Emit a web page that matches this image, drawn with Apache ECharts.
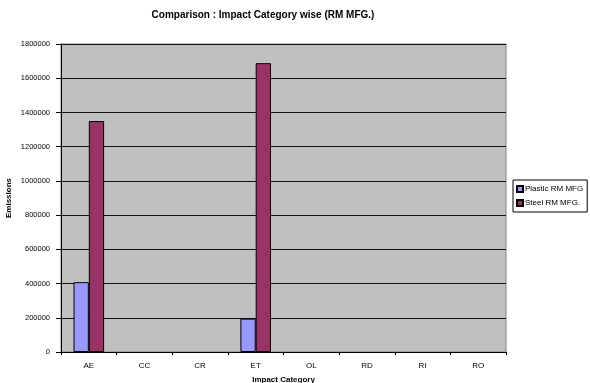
<!DOCTYPE html>
<html>
<head>
<meta charset="utf-8">
<script src="https://cdn.jsdelivr.net/npm/echarts@6/dist/echarts.min.js"></script>
<style>
  html, body { margin: 0; padding: 0; background: #fff; }
  #chart { width: 590px; height: 383px; }
</style>
</head>
<body>
<div id="chart"></div>
<script>
// Impact categories on the x axis
const categories = ['AE', 'CC', 'CR', 'ET', 'OL', 'RD', 'RI', 'RO'];
// Emissions per impact category
const plasticValues = [408000, 0, 0, 195000, 0, 0, 0, 0];
const steelValues = [1350000, 0, 0, 1688000, 0, 0, 0, 0];
const seriesNames = ['Plastic RM MFG', 'Steel RM MFG.'];

const font = '"Liberation Sans", Arial, sans-serif';

// zero-height bars get no outline so they stay invisible
function barData(values) {
  return values.map(v => ({ value: v, itemStyle: v === 0 ? { borderWidth: 0 } : {} }));
}

const chart = echarts.init(document.getElementById('chart'));
chart.setOption({
  animation: false,
  backgroundColor: '#ffffff',
  title: {
    text: 'Comparison : Impact Category wise (RM MFG.)',
    left: 258,
    top: 5,
    textAlign: 'center',
    textStyle: { fontFamily: font, fontSize: 10, fontWeight: 'bold', color: '#000' }
  },
  legend: {
    orient: 'vertical',
    left: 513,
    top: 180,
    itemWidth: 6,
    itemHeight: 6,
    itemGap: 6,
    padding: [5, 4, 5, 3],
    icon: 'rect',
    borderColor: '#000',
    borderWidth: 1,
    backgroundColor: '#fff',
    textStyle: { fontFamily: font, fontSize: 8, color: '#000', padding: [0, 0, 0, -3] },
    data: seriesNames
  },
  grid: {
    left: 61,
    right: 84,
    top: 44,
    bottom: 31,
    containLabel: false,
    outerBoundsMode: 'none',
    show: true,
    backgroundColor: '#c0c0c0',
    borderColor: '#808080',
    borderWidth: 1
  },
  xAxis: {
    type: 'category',
    data: categories,
    name: 'Impact Category',
    nameLocation: 'middle',
    nameGap: 24,
    nameMoveOverlap: false,
    nameTextStyle: { fontFamily: font, fontSize: 8, fontWeight: 'bold', color: '#000' },
    axisLine: { lineStyle: { color: '#000', width: 1 } },
    axisTick: { show: true, alignWithLabel: false, length: 3, lineStyle: { color: '#000' } },
    axisLabel: { fontFamily: font, fontSize: 8, color: '#000', margin: 10 }
  },
  yAxis: {
    type: 'value',
    min: 0,
    max: 1800000,
    interval: 200000,
    name: 'Emissions',
    nameLocation: 'middle',
    nameGap: 48,
    nameMoveOverlap: false,
    nameTextStyle: { fontFamily: font, fontSize: 8, fontWeight: 'bold', color: '#000' },
    axisLine: { show: true, lineStyle: { color: '#000', width: 1 } },
    axisTick: { show: true, length: 5, lineStyle: { color: '#000' } },
    axisLabel: { fontFamily: font, fontSize: 7.5, color: '#000', margin: 11, formatter: v => String(v) },
    splitLine: { show: true, lineStyle: { color: '#111', width: 1 } }
  },
  series: [
    {
      name: seriesNames[0],
      type: 'bar',
      data: barData(plasticValues),
      barGap: '0%',
      barCategoryGap: '45%',
      itemStyle: { color: '#9999ff', borderColor: '#000', borderWidth: 1 }
    },
    {
      name: seriesNames[1],
      type: 'bar',
      data: barData(steelValues),
      itemStyle: { color: '#993366', borderColor: '#000', borderWidth: 1 }
    }
  ]
});
</script>
</body>
</html>
